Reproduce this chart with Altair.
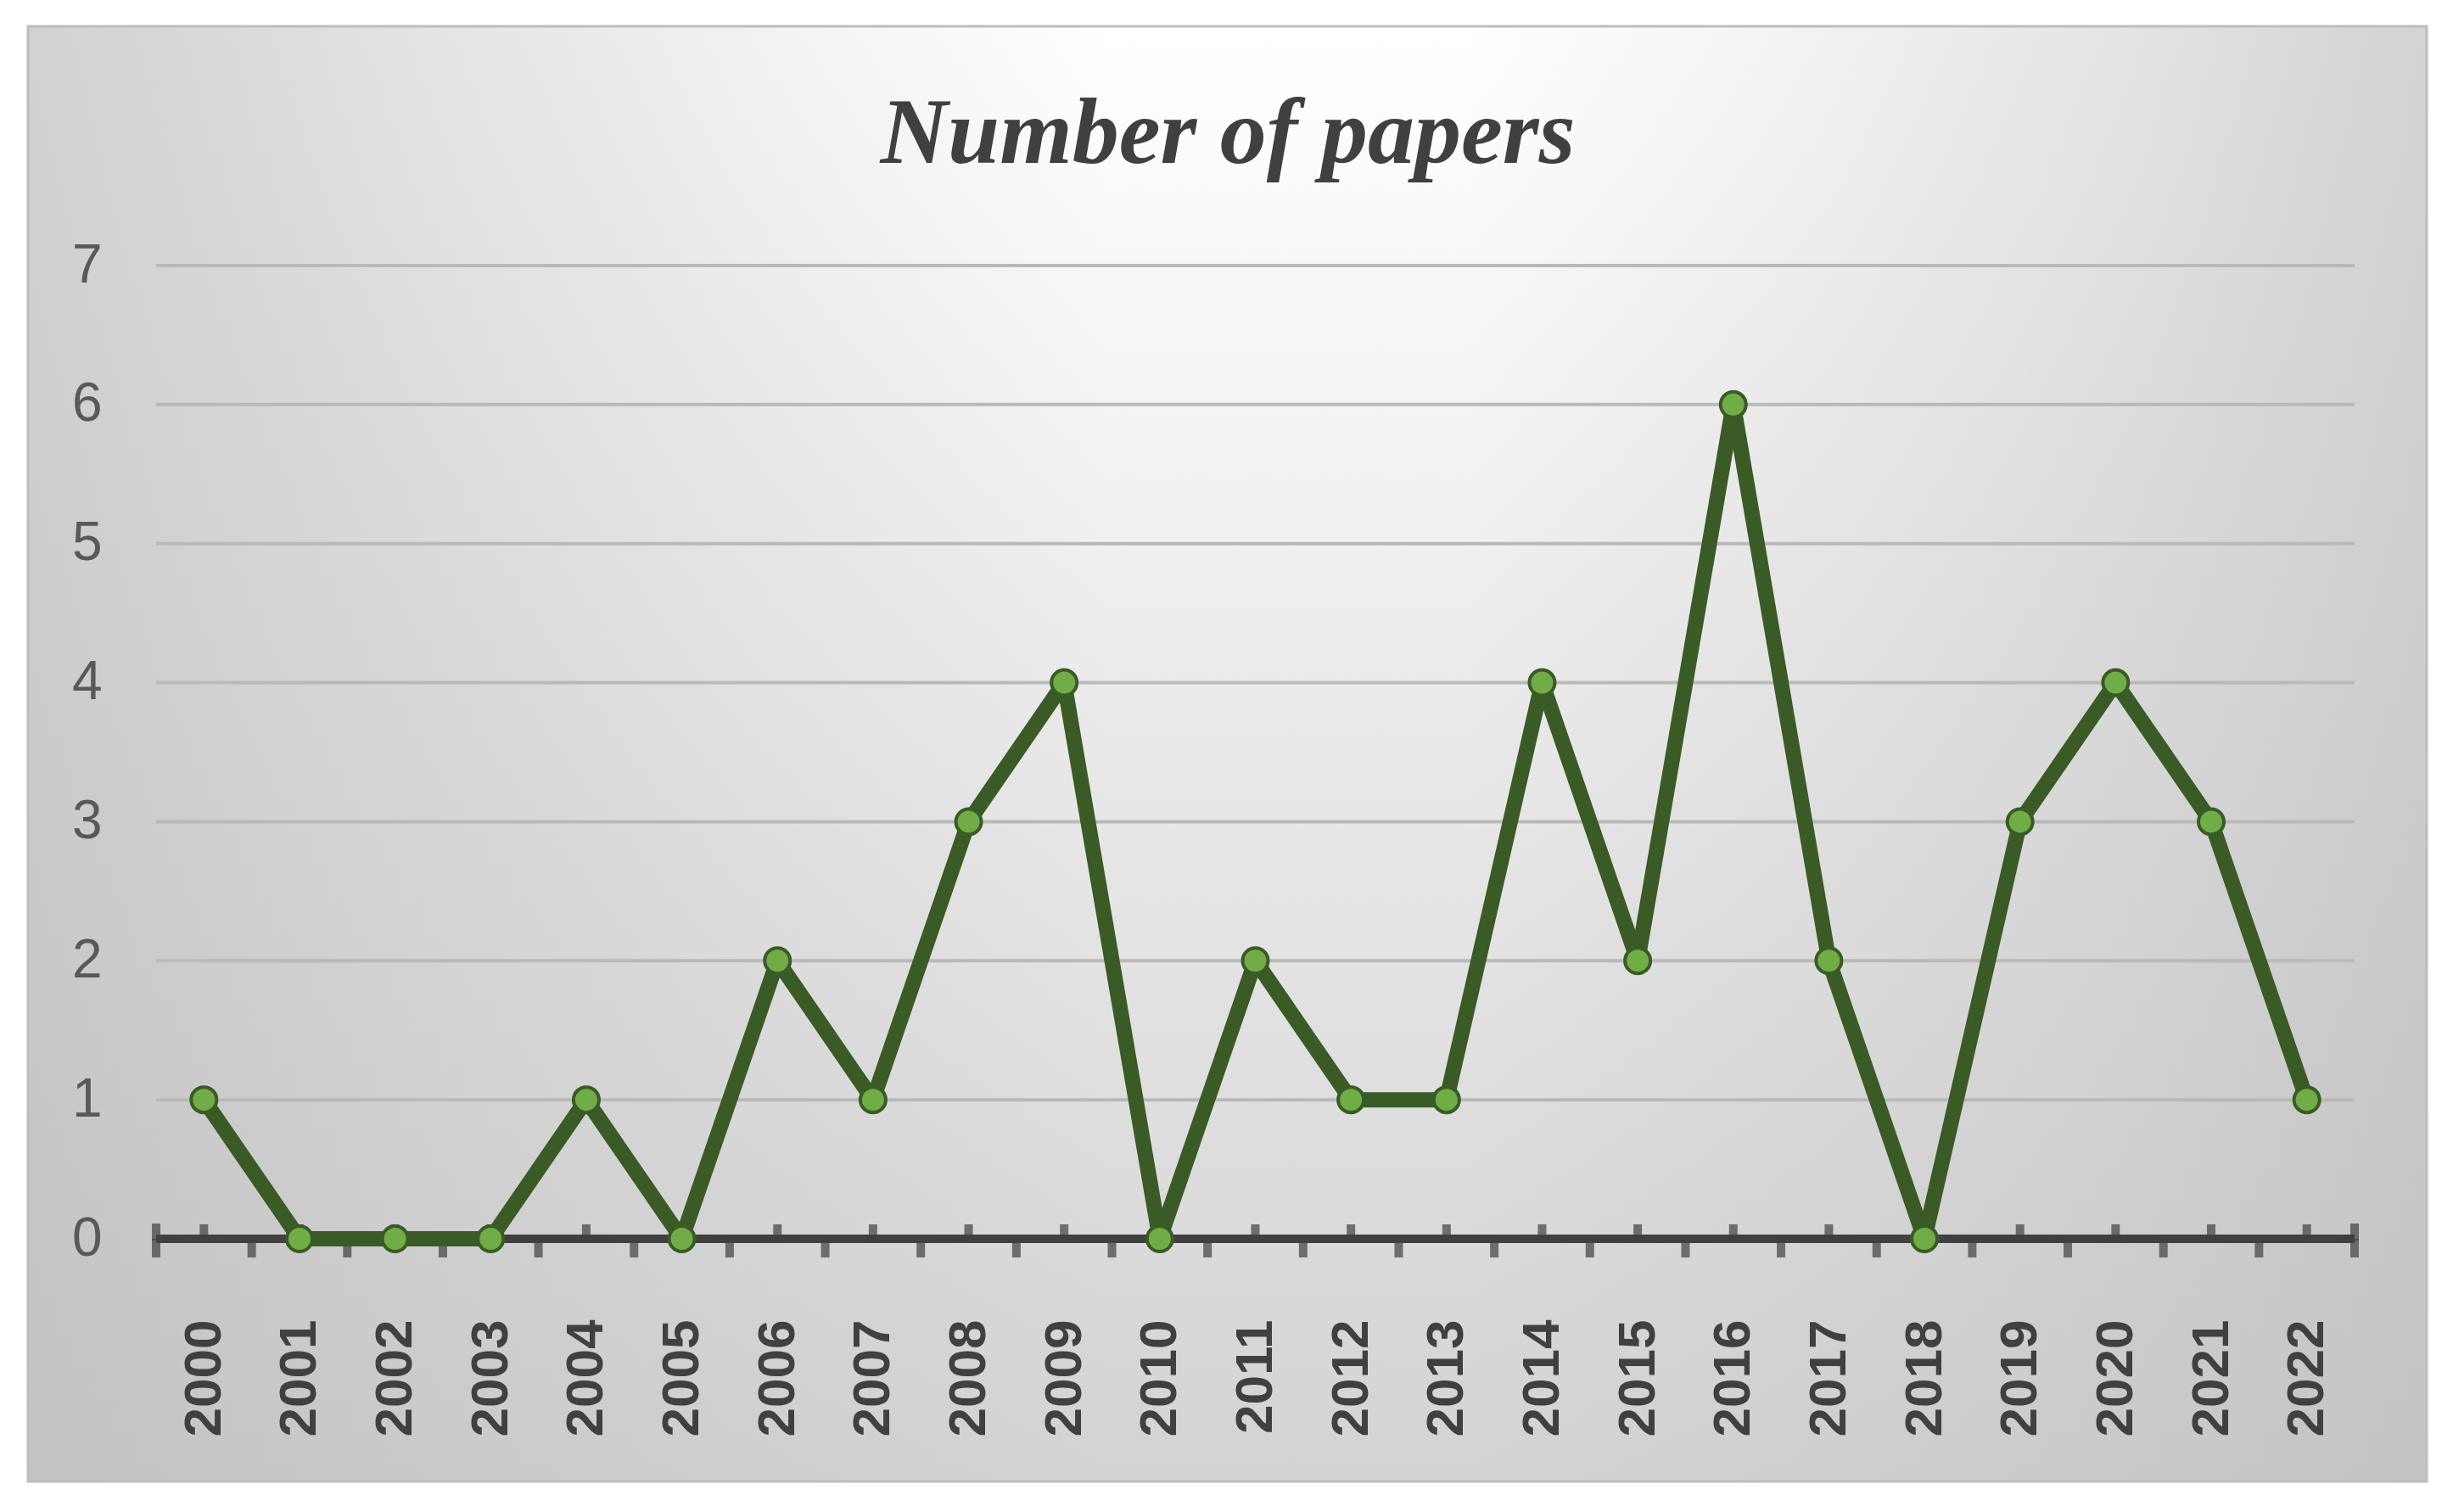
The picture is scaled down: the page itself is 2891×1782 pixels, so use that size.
import altair as alt
import pandas as pd

TITLE = "Number of papers"
years = [2000, 2001, 2002, 2003, 2004, 2005, 2006, 2007, 2008, 2009, 2010, 2011,
         2012, 2013, 2014, 2015, 2016, 2017, 2018, 2019, 2020, 2021, 2022]
papers = [1, 0, 0, 0, 1, 0, 2, 1, 3, 4, 0, 2, 1, 1, 4, 2, 6, 2, 0, 3, 4, 3, 1]
y_ticks = [0, 1, 2, 3, 4, 5, 6, 7]
grid_values = [1, 2, 3, 4, 5, 6, 7]

W, H = 2591, 1147
LINE = "#3a5b25"
MARK_FILL = "#70ad47"
AXIS = "#404040"

df = pd.DataFrame({"year": years, "papers": papers})
bounds = [y - 0.5 for y in years] + [years[-1] + 0.5]
df_b = pd.DataFrame({"b": bounds, "z": [0] * len(bounds)})
df_ends = pd.DataFrame({"b": [bounds[0], bounds[-1]], "z": [0, 0]})
df_c = pd.DataFrame({"year": years, "z": [0] * len(years)})
df_grid = pd.DataFrame({"g": grid_values})
df_one = pd.DataFrame({"t": [TITLE]})

xscale = alt.Scale(domain=[years[0] - 0.5, years[-1] + 0.5], nice=False, zero=False)
yscale = alt.Scale(domain=[0, 7], nice=False)

vgrad = {
    "gradient": "linear", "x1": 0, "y1": 0, "x2": 0, "y2": 1,
    "stops": [
        {"offset": 0.0, "color": "#ffffff"},
        {"offset": 0.1, "color": "#fbfbfb"},
        {"offset": 0.52, "color": "#e8e8e8"},
        {"offset": 1.0, "color": "#d3d3d3"},
    ],
}
hgrad = {
    "gradient": "linear", "x1": 0, "y1": 0, "x2": 1, "y2": 0,
    "stops": [
        {"offset": 0.0, "color": "rgba(188,188,188,0.68)"},
        {"offset": 0.16, "color": "rgba(188,188,188,0.42)"},
        {"offset": 0.3, "color": "rgba(188,188,188,0.2)"},
        {"offset": 0.45, "color": "rgba(188,188,188,0.0)"},
        {"offset": 0.6, "color": "rgba(188,188,188,0.0)"},
        {"offset": 0.75, "color": "rgba(188,188,188,0.2)"},
        {"offset": 0.88, "color": "rgba(188,188,188,0.42)"},
        {"offset": 1.0, "color": "rgba(188,188,188,0.65)"},
    ],
}

bg = alt.Chart(df_one).mark_rect(fill=vgrad).encode(
    x=alt.value(-151), x2=alt.value(2676), y=alt.value(-282), y2=alt.value(1433)
)
bg2 = alt.Chart(df_one).mark_rect(fill=hgrad, stroke="#bdbdbd", strokeWidth=3).encode(
    x=alt.value(-151), x2=alt.value(2676), y=alt.value(-282), y2=alt.value(1433)
)

title = alt.Chart(df_one).mark_text(
    font="Liberation Serif", fontStyle="italic", fontWeight="bold", fontSize=110,
    color="#404040", align="center", baseline="alphabetic"
).encode(text="t:N", x=alt.value(1263), y=alt.value(-121))

grid = alt.Chart(df_grid).mark_rule(color="#b9b9b9", strokeWidth=4).encode(
    y=alt.Y("g:Q", scale=yscale), x=alt.value(0), x2=alt.value(W)
)

axis_line = alt.Chart(df_one).mark_rule(color=AXIS, strokeWidth=10).encode(
    y=alt.datum(0, scale=yscale), x=alt.value(0), x2=alt.value(W)
)

down_ticks = alt.Chart(df_b).mark_tick(
    orient="vertical", color=AXIS, size=22, thickness=10, yOffset=11
).encode(x=alt.X("b:Q", scale=xscale), y=alt.Y("z:Q", scale=yscale))

end_ticks = alt.Chart(df_ends).mark_tick(
    orient="vertical", color=AXIS, size=20, thickness=10, yOffset=-8
).encode(x=alt.X("b:Q", scale=xscale), y=alt.Y("z:Q", scale=yscale))

up_ticks = alt.Chart(df_c).mark_tick(
    orient="vertical", color=AXIS, size=18, thickness=10, yOffset=-8
).encode(x=alt.X("year:Q", scale=xscale), y=alt.Y("z:Q", scale=yscale))

line = alt.Chart(df).mark_line(color=LINE, strokeWidth=18, strokeJoin="round").encode(
    x=alt.X("year:Q", scale=xscale,
            axis=alt.Axis(values=years, format="d", labelAngle=270, labelFont="Liberation Sans",
                          labelFontWeight="bold", labelFontSize=62, labelColor=AXIS,
                          labelPadding=95, domain=False, ticks=False, tickSize=0, grid=False,
                          labelOverlap=False, labelFlush=False, title=None, zindex=1)),
    y=alt.Y("papers:Q", scale=yscale,
            axis=alt.Axis(values=y_ticks, format="d", labelFont="Liberation Sans", labelFontSize=64,
                          labelColor="#595959", labelPadding=64, domain=False, ticks=False,
                          tickSize=0, grid=False, title=None, zindex=1)),
)

points = alt.Chart(df).mark_point(
    shape="circle", filled=True, fill=MARK_FILL, stroke=LINE, strokeWidth=4, size=900, opacity=1
).encode(x=alt.X("year:Q", scale=xscale), y=alt.Y("papers:Q", scale=yscale))

chart = alt.layer(bg, bg2, title, grid, axis_line, down_ticks, end_ticks, up_ticks, line, points).properties(
    width=W, height=H,
    autosize=alt.AutoSizeParams(type="none"),
    padding={"left": 176, "top": 305, "right": 100, "bottom": 300},
).configure_view(stroke=None)

chart.save("out.html", embed_options={"renderer": "svg", "actions": False})
